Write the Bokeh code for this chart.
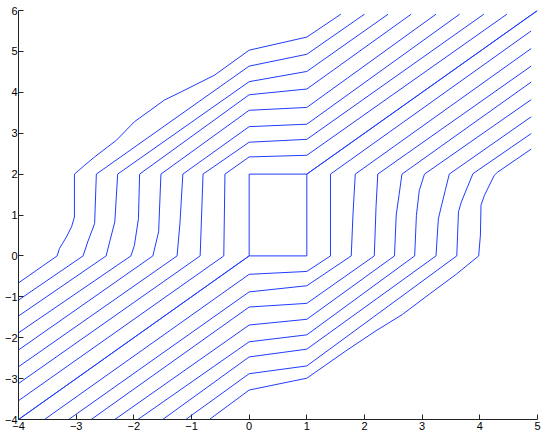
from bokeh.plotting import figure
from bokeh.models import Range1d, FixedTicker
from bokeh.embed import file_html
from bokeh.resources import INLINE

# ---- axis ticks ----
x_ticks = [-4, -3, -2, -1, 0, 1, 2, 3, 4, 5]
x_tick_labels = ["\u22124", "\u22123", "\u22122", "\u22121", "0", "1", "2", "3", "4", "5"]
y_ticks = [-4, -3, -2, -1, 0, 1, 2, 3, 4, 5, 6]
y_tick_labels = ["\u22124", "\u22123", "\u22122", "\u22121", "0", "1", "2", "3", "4", "5", "6"]

# ---- central streamline (splits around the obstacle [0,1]x[0,2]) ----
center_a_x = [-4, 0, 0, 1, 5]
center_a_y = [-4, 0, 2, 2, 6]
center_b_x = [-4, 0, 1, 1, 5]
center_b_y = [-4, 0, 0, 2, 6]

# ---- streamlines passing above/left of the obstacle (outermost first) ----
up1_x = [-4, -3.33, -3.29, -3.17, -3.08, -3.03, -3.03, -2.85, -2.68, -2.30, -1.99, -1.47, -1.18, -0.60, 0, 1, 1.59]
up1_y = [-0.66, 0, 0.18, 0.46, 0.71, 0.95, 2.0, 2.22, 2.42, 2.83, 3.28, 3.81, 4.01, 4.42, 5.03, 5.35, 5.91]
up2_x = [-4, -2.88, -2.80, -2.68, -2.65, 0, 1, 2.0]
up2_y = [-1.08, 0, 0.34, 0.79, 2.0, 4.64, 4.93, 5.91]
up3_x = [-4, -2.48, -2.42, -2.33, -2.28, 0, 1, 2.41]
up3_y = [-1.47, 0, 0.34, 0.83, 2.0, 4.26, 4.51, 5.91]
up4_x = [-4, -2.05, -1.99, -1.92, -1.90, 0, 1, 2.81]
up4_y = [-1.88, 0, 0.26, 0.91, 2.0, 3.94, 4.08, 5.91]
up5_x = [-4, -1.67, -1.57, -1.53, 0, 1, 3.24]
up5_y = [-2.30, 0, 0.59, 2.0, 3.56, 3.63, 5.91]
up6_x = [-4, -1.25, -1.20, -1.15, 0, 1, 3.65]
up6_y = [-2.71, 0, 0.80, 2.0, 3.16, 3.22, 5.91]
up7_x = [-4, -0.85, -0.80, 0, 1, 4.07]
up7_y = [-3.12, 0, 2.0, 2.78, 2.85, 5.91]
up8_x = [-4, -0.44, -0.42, 0, 1, 4.47]
up8_y = [-3.54, 0, 2.0, 2.42, 2.46, 5.91]

# ---- streamlines passing below/right of the obstacle (outermost first) ----
lo1_x = [-0.69, 0, 1, 1.68, 2.20, 2.66, 3.12, 3.59, 3.98, 4.01, 4.02, 4.08, 4.25, 4.31, 4.89]
lo1_y = [-4, -3.28, -2.99, -2.32, -1.83, -1.43, -0.94, -0.45, 0, 0.51, 1.24, 1.48, 1.97, 2.05, 2.61]
lo2_x = [-1.10, 0, 1, 3.60, 3.63, 3.68, 3.88, 4.89]
lo2_y = [-4, -2.88, -2.69, 0, 1.08, 1.32, 2.01, 2.99]
lo3_x = [-1.50, 0, 1, 3.24, 3.28, 3.33, 3.40, 3.47, 4.89]
lo3_y = [-4, -2.47, -2.28, 0, 0.90, 1.20, 1.60, 2.0, 3.40]
lo4_x = [-1.93, 0, 1, 2.87, 2.90, 2.95, 3.04, 4.89]
lo4_y = [-4, -2.10, -1.93, 0, 0.99, 1.60, 2.0, 3.82]
lo5_x = [-2.33, 0, 1, 2.52, 2.55, 2.60, 2.65, 4.89]
lo5_y = [-4, -1.69, -1.55, 0, 1.0, 1.50, 2.0, 4.25]
lo6_x = [-2.74, 0, 1, 2.17, 2.20, 2.23, 4.89]
lo6_y = [-4, -1.25, -1.16, 0, 1.20, 2.0, 4.64]
lo7_x = [-3.13, 0, 1, 1.77, 1.80, 1.84, 4.89]
lo7_y = [-4, -0.88, -0.73, 0, 1.0, 2.0, 5.07]
lo8_x = [-3.55, 0, 1, 1.41, 1.41, 4.89]
lo8_y = [-4, -0.45, -0.38, 0, 2.0, 5.50]

xs = [center_a_x, center_b_x, up1_x, up2_x, up3_x, up4_x, up5_x, up6_x, up7_x, up8_x,
      lo1_x, lo2_x, lo3_x, lo4_x, lo5_x, lo6_x, lo7_x, lo8_x]
ys = [center_a_y, center_b_y, up1_y, up2_y, up3_y, up4_y, up5_y, up6_y, up7_y, up8_y,
      lo1_y, lo2_y, lo3_y, lo4_y, lo5_y, lo6_y, lo7_y, lo8_y]

p = figure(width=545, height=434, output_backend="svg", toolbar_location=None,
           x_range=Range1d(-4, 5), y_range=Range1d(-4, 6),
           min_border_left=18, min_border_right=8, min_border_top=10, min_border_bottom=15,
           margin=(0, 0, 0, 0))
p.outline_line_color = None
p.grid.visible = False
p.background_fill_color = "white"
p.border_fill_color = "white"

p.multi_line(xs, ys, line_color="#1f3cff", line_width=1)

for ax, ticks, labels in ((p.xaxis[0], x_ticks, x_tick_labels), (p.yaxis[0], y_ticks, y_tick_labels)):
    ax.ticker = FixedTicker(ticks=ticks)
    ax.major_label_overrides = {t: l for t, l in zip(ticks, labels)}
    ax.major_tick_in = 5
    ax.major_tick_out = 0
    ax.minor_tick_line_color = None
    ax.axis_line_color = "#222222"
    ax.major_tick_line_color = "#222222"
    ax.major_label_text_font = "Liberation Sans"
    ax.major_label_text_font_size = "11px"
    ax.major_label_text_color = "black"
p.xaxis.major_label_standoff = 2
p.yaxis.major_label_standoff = 1

open("out.html", "w").write(file_html(p, INLINE))
